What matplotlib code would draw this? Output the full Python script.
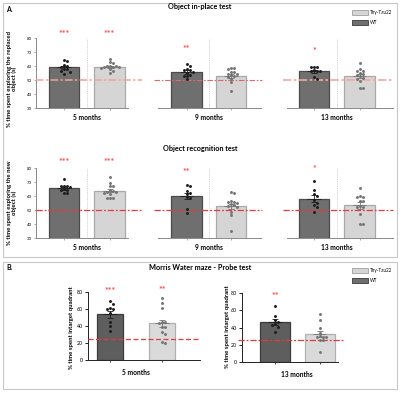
import numpy as np
import matplotlib
matplotlib.use('Agg')
import matplotlib.pyplot as plt
from matplotlib.patches import Rectangle

plt.rcParams['font.family'] = ['Lato', 'DejaVu Sans']

W, H = 400, 395

# ---- data: panel A, object in-place test ----
months = ['5 months', '9 months', '13 months']
inplace_wt_mean = [59.0, 55.5, 56.2]
inplace_wt_sem = [1.0, 1.4, 1.1]
inplace_tau_mean = [59.2, 53.0, 52.6]
inplace_tau_sem = [0.8, 1.3, 1.5]
inplace_wt_pts = [
    [64.3, 63.6, 60.7, 60.0, 59.5, 58.0, 57.5, 56.7, 56.0, 54.3],
    [61.2, 60.0, 57.5, 57.0, 56.8, 55.5, 55.0, 53.5, 53.0, 52.8, 50.5],
    [59.5, 59.5, 59.0, 57.0, 56.7, 56.5, 56.5, 52.4, 50.5],
]
inplace_tau_pts = [
    [64.8, 62.6, 61.9, 60.0, 60.0, 60.0, 59.5, 59.5, 59.0, 58.5, 57.5, 56.7, 55.0],
    [58.8, 58.5, 57.6, 56.0, 55.5, 54.5, 54.3, 53.5, 53.1, 52.4, 50.5, 48.3, 42.4],
    [61.9, 57.9, 56.7, 56.5, 55.0, 54.3, 53.5, 52.9, 51.2, 51.0, 49.3, 44.5, 44.5],
]
inplace_wt_stars = ['***', '**', '*']
inplace_tau_stars = ['***', '', '']
inplace_wt_star_y = [82.8, 72.0, 70.0]
inplace_tau_star_y = [82.8, 0, 0]

# ---- data: panel A, object recognition test ----
recog_wt_mean = [65.5, 59.8, 58.1]
recog_wt_sem = [1.0, 2.2, 2.4]
recog_tau_mean = [63.8, 52.6, 53.3]
recog_tau_sem = [1.2, 1.8, 2.4]
recog_wt_pts = [
    [71.9, 67.5, 67.0, 66.8, 66.5, 65.0, 64.5, 64.0, 62.0, 61.8],
    [67.9, 67.5, 63.6, 61.9, 61.5, 59.1, 58.5, 50.5, 47.6],
    [70.7, 64.3, 61.4, 60.2, 57.0, 55.2, 53.5, 51.9, 48.8],
]
recog_tau_pts = [
    [73.4, 69.5, 67.1, 67.0, 64.5, 63.5, 63.1, 63.0, 62.5, 61.4, 58.8, 58.8, 58.5],
    [62.6, 62.0, 56.5, 56.0, 55.5, 55.0, 54.0, 53.5, 53.0, 52.0, 48.8, 46.4, 35.2],
    [66.0, 60.2, 59.5, 59.5, 56.6, 56.6, 53.2, 52.5, 52.0, 46.9, 39.8, 39.8],
]
recog_wt_stars = ['***', '**', '*']
recog_tau_stars = ['***', '', '']
recog_wt_star_y = [83.6, 77.0, 78.6]
recog_tau_star_y = [83.6, 0, 0]

# ---- data: panel B, Morris water maze probe test ----
mwm_months = ['5 months', '13 months']
mwm_wt_mean = [54.0, 46.7]
mwm_wt_sem = [4.0, 3.5]
mwm_tau_mean = [43.1, 32.5]
mwm_tau_sem = [4.5, 3.2]
mwm_wt_pts = [
    [69.0, 65.9, 61.6, 59.6, 59.6, 55.0, 45.0, 40.4, 34.5],
    [65.3, 53.3, 48.7, 46.0, 44.0, 42.9, 41.0, 35.2],
]
mwm_tau_pts = [
    [72.5, 66.7, 61.6, 45.0, 44.5, 44.0, 39.2, 39.0, 32.5, 30.2, 21.6, 19.6],
    [55.3, 48.7, 39.0, 34.0, 30.0, 29.4, 29.0, 28.5, 25.5, 25.0, 12.0],
]
mwm_wt_stars = ['***', '**']
mwm_tau_stars = ['**', '']
mwm_wt_star_y = [80.0, 75.7]
mwm_tau_star_y = [82.0, 0]

chance_a = 50
chance_b = 25

WT_FACE, WT_EDGE, WT_DOT = '#6f6f6f', '#4a4a4a', '#1c1c1c'
TAU_FACE, TAU_EDGE, TAU_DOT = '#d5d5d5', '#a9a9a9', '#747474'
STAR = '#ff4a4a'

fig = plt.figure(figsize=(W / 100, H / 100), dpi=100)


def add_ax(x0, y0, x1, y1):
    return fig.add_axes([x0 / W, 1 - y1 / H, (x1 - x0) / W, (y1 - y0) / H])


def swarm(vals, ydiam, xdiam):
    vals = np.asarray(vals, float)
    offs = np.zeros(len(vals))
    placed = []
    for i in np.argsort(-vals):
        for k in range(30):
            cand = 0 if k == 0 else ((k + 1) // 2) * xdiam * (1 if k % 2 else -1)
            if all(((vals[i] - pv) / ydiam) ** 2 + ((cand - po) / xdiam) ** 2 >= 0.9 for pv, po in placed):
                break
        offs[i] = cand
        placed.append((vals[i], cand))
    return offs


def draw_pair(ax, wt_m, wt_s, tau_m, tau_s, wt_p, tau_p, bw, ydiam, xdiam,
              wt_face=WT_FACE, wt_edge=WT_EDGE, tau_face=TAU_FACE, tau_edge=TAU_EDGE, cap=2.2):
    ax.bar([0], [wt_m], width=bw, color=wt_face, edgecolor=wt_edge, linewidth=0.9, zorder=2)
    ax.bar([1], [tau_m], width=bw, color=tau_face, edgecolor=tau_edge, linewidth=0.9, zorder=2)
    for x, pts, col in [(0, wt_p, WT_DOT), (1, tau_p, TAU_DOT)]:
        ax.scatter(x + swarm(pts, ydiam, xdiam), pts, s=4.5, color=col, linewidths=0, zorder=4, clip_on=False)
    ax.errorbar([0], [wt_m], yerr=[wt_s], fmt='none', ecolor=WT_DOT, elinewidth=0.6, capsize=cap, capthick=0.6, zorder=5)
    ax.errorbar([1], [tau_m], yerr=[tau_s], fmt='none', ecolor=TAU_DOT, elinewidth=0.6, capsize=cap, capthick=0.6, zorder=5)
    ax.hlines([wt_m], -xdiam * 2.2, xdiam * 2.2, color=WT_DOT, lw=0.6, zorder=5)
    ax.hlines([tau_m], 1 - xdiam * 2.2, 1 + xdiam * 2.2, color=TAU_DOT, lw=0.6, zorder=5)


def stars(ax, txt, x, y, size=6.5):
    if txt:
        ax.text(x, y, txt, color=STAR, ha='center', va='center', fontsize=size,
                fontweight='bold', clip_on=False, zorder=6)


# panel frames
fig.add_artist(Rectangle((3 / W, 1 - 257 / H), 394 / W, 254 / H, transform=fig.transFigure,
                         fill=False, edgecolor='#c8c8c8', lw=0.8))
fig.add_artist(Rectangle((3 / W, 1 - 389 / H), 394 / W, 127 / H, transform=fig.transFigure,
                         fill=False, edgecolor='#c8c8c8', lw=0.8))
fig.text(6 / W, 1 - 9 / H, 'A.', fontsize=5, fontweight='bold', va='center')
fig.text(6 / W, 1 - 267 / H, 'B.', fontsize=5, fontweight='bold', va='center')

# layout of groups in panel A: (axes left px, axes right px, first bar centre px, spacing px, line from px, line to px)
lay_a = [(36, 128, 64, 45.5, 36, 142), (158, 261, 186.5, 44.5, 154, 262), (287, 393, 314, 45.5, 283, 393)]
rows = [
    ('Object in-place test', 7, 38, 108, '% time spent exploring the replaced\nobject (s)', 79,
     inplace_wt_mean, inplace_wt_sem, inplace_tau_mean, inplace_tau_sem, inplace_wt_pts, inplace_tau_pts,
     inplace_wt_stars, inplace_tau_stars, inplace_wt_star_y, inplace_tau_star_y,
     [('#f3a0a0', 1.1), ('#df6a6a', 0.8), ('#f4a7a7', 1.2)]),
    ('Object recognition test', 148, 168, 238, '% time spent exploring the new\nobject (s)', 203,
     recog_wt_mean, recog_wt_sem, recog_tau_mean, recog_tau_sem, recog_wt_pts, recog_tau_pts,
     recog_wt_stars, recog_tau_stars, recog_wt_star_y, recog_tau_star_y,
     [('#e8383d', 0.9), ('#e8383d', 0.9), ('#e8383d', 0.9)]),
]

for (title, ty, y0, y1, ylab, ly, wm, ws, tm, tsd, wp, tp, wst, tst, wsy, tsy, lines) in rows:
    fig.text(200 / W, 1 - ty / H, title, ha='center', va='center', fontsize=5.2, fontweight='bold')
    fig.text(12 / W, 1 - ly / H, ylab, rotation=90, ha='center', va='center', fontsize=4.3,
             fontweight='bold', multialignment='center', linespacing=1.0)
    for g, (x0, x1, c0, sp, lx0, lx1) in enumerate(lay_a):
        ax = add_ax(x0, y0, x1, y1)
        ax.set_xlim((x0 - c0) / sp, (x1 - c0) / sp)
        ax.set_ylim(30, 80)
        xd = 3.0 / sp
        yd = 3.0 / ((y1 - y0) / 50)
        draw_pair(ax, wm[g], ws[g], tm[g], tsd[g], wp[g], tp[g], 30.5 / sp, yd, xd)
        ax.axvline(0.5, color='#c4c4c4', lw=0.6, ls=(0, (1, 1.2)), zorder=1)
        col, lw = lines[g]
        ax.axhline(chance_a, xmin=(lx0 - x0) / (x1 - x0), xmax=(lx1 - x0) / (x1 - x0), color=col, lw=lw,
                   ls=(0, (5, 1.5, 1.5, 1.5)), zorder=3, clip_on=False)
        stars(ax, wst[g], 0, wsy[g])
        stars(ax, tst[g], 1, tsy[g])
        for s in ['top', 'right']:
            ax.spines[s].set_visible(False)
        ax.spines['bottom'].set_color('#8a8a8a')
        ax.spines['bottom'].set_linewidth(0.7)
        ax.set_xticks([0, 1])
        ax.set_xticklabels(['', ''])
        ax.tick_params(axis='x', length=1.5, width=0.5, color='#8a8a8a')
        if g == 0:
            ax.spines['left'].set_color('#8a8a8a')
            ax.spines['left'].set_linewidth(0.7)
            ax.set_yticks([30, 40, 50, 60, 70, 80])
            ax.tick_params(axis='y', length=1.5, width=0.5, color='#8a8a8a', labelsize=3.2, pad=1.5)
        else:
            ax.spines['left'].set_visible(False)
            ax.set_yticks([])
        ax.set_facecolor('none')
        ax.text(0.5, -0.13, months[g], transform=ax.get_xaxis_transform(), ha='center', va='center',
                fontsize=4.8, fontweight='bold')


def legend(y_top):
    for k, (lab, face, edge) in enumerate([('Thy-Tau22', TAU_FACE, TAU_EDGE), ('WT', WT_FACE, WT_EDGE)]):
        yy = y_top + k * 10
        fig.add_artist(Rectangle((352 / W, 1 - (yy + 5) / H), 16 / W, 5 / H, transform=fig.transFigure,
                                 facecolor=face, edgecolor=edge, lw=0.7))
        fig.text(370 / W, 1 - (yy + 2.5) / H, lab, fontsize=3.3, va='center')


legend(10)
legend(268)

# panel B
fig.text(200 / W, 1 - 267 / H, 'Morris Water maze - Probe test', ha='center', va='center',
         fontsize=5.2, fontweight='bold')
lay_b = [(88, 200, 110, 52, 292, 360, 26, 72, 328, 88, 200, (0, (4, 2))),
         (242, 338, 275, 44.5, 293, 362, 30, 228, 327, 238, 343, (0, (5, 1.5, 1.5, 1.5)))]
for g, (x0, x1, c0, sp, y0, y1, bwp, lxp, lyp, lx0, lx1, ls) in enumerate(lay_b):
    ax = add_ax(x0, y0, x1, y1)
    ax.set_xlim((x0 - c0) / sp, (x1 - c0) / sp)
    ax.set_ylim(0, 80)
    xd = 3.0 / sp
    yd = 3.0 / ((y1 - y0) / 80)
    draw_pair(ax, mwm_wt_mean[g], mwm_wt_sem[g], mwm_tau_mean[g], mwm_tau_sem[g], mwm_wt_pts[g],
              mwm_tau_pts[g], bwp / sp, yd, xd, wt_face='#5e5e5e', wt_edge='#3c3c3c',
              tau_face='#dadada', tau_edge='#b0b0b0')
    ax.axhline(chance_b, xmin=(lx0 - x0) / (x1 - x0), xmax=(lx1 - x0) / (x1 - x0), color='#e8383d',
               lw=0.9, ls=ls, zorder=3, clip_on=False)
    stars(ax, mwm_wt_stars[g], 0, mwm_wt_star_y[g])
    stars(ax, mwm_tau_stars[g], 1, mwm_tau_star_y[g])
    for s in ['top', 'right']:
        ax.spines[s].set_visible(False)
    for s in ['left', 'bottom']:
        ax.spines[s].set_color('#222222')
        ax.spines[s].set_linewidth(0.7)
    ax.set_xticks([0, 1])
    ax.set_xticklabels(['', ''])
    ax.set_yticks([0, 20, 40, 60, 80])
    ax.tick_params(axis='x', length=1.5, width=0.5)
    ax.tick_params(axis='y', length=2, width=0.6, labelsize=3.8, pad=1.5)
    ax.set_facecolor('none')
    ax.text(0.5, -0.18, mwm_months[g], transform=ax.get_xaxis_transform(), ha='center', va='center',
            fontsize=4.8, fontweight='bold')
    fig.text(lxp / W, 1 - lyp / H, '% time spent intarget quadrant', rotation=90, ha='center',
             va='center', fontsize=4.3, fontweight='bold')

fig.savefig('out.png', dpi=100)
